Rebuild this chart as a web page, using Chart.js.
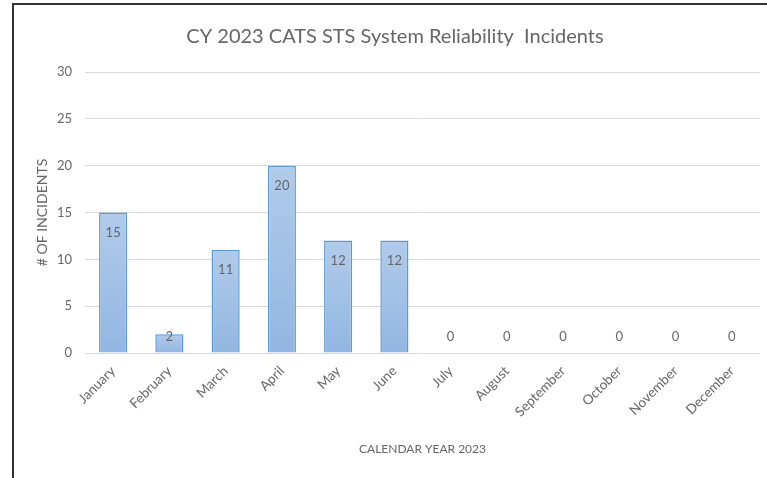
<!DOCTYPE html>
<html>
<head>
<meta charset="utf-8">
<script src="https://cdn.jsdelivr.net/npm/chart.js@4.4.0/dist/chart.umd.min.js"></script>
<style>
    body { margin: 0; background: #fff; overflow: hidden; }
    #frame {
        position: absolute; left: 12px; top: 3px; width: 800px; height: 500px;
        border-left: 2px solid #333; border-top: 2px solid #333;
    }
    #chart { position: absolute; left: 0; top: 0; }
</style>
</head>
<body>
<div id="frame"></div>
<canvas id="chart" width="767" height="478"></canvas>
<script>
// Chart data
const months = ['January', 'February', 'March', 'April', 'May', 'June',
    'July', 'August', 'September', 'October', 'November', 'December'];
const incidents = [15, 2, 11, 20, 12, 12, 0, 0, 0, 0, 0, 0];
const yTicks = [0, 5, 10, 15, 20, 25, 30];

const FONT = 'Lato, Calibri, Carlito, sans-serif';
const TEXT = '#666666';

// Each bar gets its own light-to-darker gradient, like the Excel fill
function barFill(context) {
    const chart = context.chart;
    const yScale = chart.scales.y;
    if (!yScale || context.type !== 'data') return '#a4c2e8';
    const top = yScale.getPixelForValue(context.parsed.y);
    const base = yScale.getPixelForValue(0);
    if (!isFinite(top) || top === base) return '#a4c2e8';
    const g = chart.ctx.createLinearGradient(0, top, 0, base);
    g.addColorStop(0, '#b1cbea');
    g.addColorStop(1, '#92b6e2');
    return g;
}

// Value labels inside the bar end
const valueLabels = {
    id: 'valueLabels',
    afterDatasetsDraw(chart) {
        const ctx = chart.ctx;
        const meta = chart.getDatasetMeta(0);
        const base = chart.scales.y.getPixelForValue(0);
        ctx.save();
        ctx.font = '13px ' + FONT;
        ctx.fillStyle = TEXT;
        ctx.textAlign = 'center';
        ctx.textBaseline = 'middle';
        meta.data.forEach((bar, i) => {
            const y = Math.min(bar.y + 20, base - 16);
            ctx.fillText(String(incidents[i]), bar.x, y);
        });
        ctx.restore();
    }
};

new Chart(document.getElementById('chart'), {
    type: 'bar',
    data: {
        labels: months,
        datasets: [{
            data: incidents,
            backgroundColor: barFill,
            borderColor: '#5b9bd5',
            borderWidth: 1.5,
            borderSkipped: 'bottom',
            barPercentage: 0.5,
            categoryPercentage: 1.0
        }]
    },
    options: {
        responsive: false,
        animation: false,
        layout: { padding: { left: 30, right: 7, top: 0, bottom: 18 } },
        plugins: {
            legend: { display: false },
            tooltip: { enabled: false },
            title: {
                display: true,
                text: 'CY 2023 CATS STS System Reliability  Incidents',
                color: TEXT,
                font: { family: FONT, size: 20, weight: 'normal' },
                padding: { top: 25, bottom: 23 }
            }
        },
        scales: {
            x: {
                grid: { display: false },
                border: { display: false },
                ticks: {
                    color: TEXT,
                    font: { family: FONT, size: 13.5 },
                    minRotation: 45,
                    maxRotation: 45,
                    padding: 2
                },
                title: {
                    display: true,
                    text: 'CALENDAR YEAR 2023',
                    color: TEXT,
                    font: { family: FONT, size: 12 },
                    padding: 4
                },
                afterFit(scale) { scale.height = 107; }
            },
            y: {
                min: 0,
                max: 30,
                afterBuildTicks(scale) {
                    scale.ticks = yTicks.map(v => ({ value: v }));
                },
                grid: { color: '#d9d9d9', lineWidth: 1, drawTicks: false },
                border: { display: false },
                ticks: {
                    color: TEXT,
                    font: { family: FONT, size: 13 },
                    padding: 13
                },
                title: {
                    display: true,
                    text: '# OF INCIDENTS',
                    color: TEXT,
                    font: { family: FONT, size: 14 },
                    padding: 4
                },
                afterFit(scale) { scale.width = 55; }
            }
        }
    },
    plugins: [valueLabels]
});
</script>
</body>
</html>
